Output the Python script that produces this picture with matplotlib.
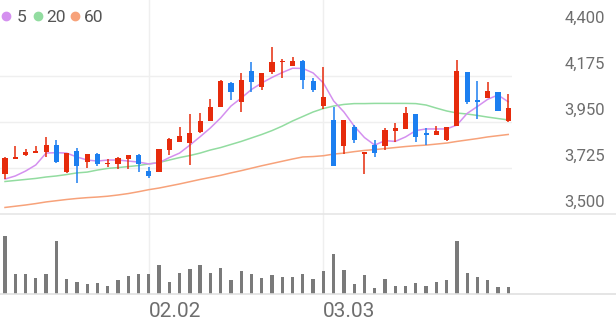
import numpy as np
import matplotlib
matplotlib.use("Agg")
import matplotlib.pyplot as plt
from matplotlib.lines import Line2D
import matplotlib.transforms as mtransforms

plt.rcParams['font.family'] = ['Roboto', 'DejaVu Sans']

# ---------------- data ----------------
opens = [3694, 3770, 3790, 3798, 3805, 3837, 3707, 3810, 3756, 3795,
         3745, 3745, 3769, 3789, 3712, 3704, 3813, 3854, 3846, 3900,
         3955, 4025, 4142, 4049, 4201, 4123, 4196, 4243, 4225, 4250,
         4152, 4030, 3960, 3833, 3927, 3792, 3837, 3833, 3907, 3914,
         3988, 3898, 3885, 3862, 3930, 4193, 4058, 4069, 4098, 3955]
highs = [3778, 3833, 3816, 3833, 3878, 3862, 3797, 3821, 3795, 3800,
         3768, 3777, 3789, 3793, 3728, 3819, 3870, 3924, 3989, 3995,
         4061, 4155, 4145, 4191, 4245, 4190, 4315, 4257, 4269, 4252,
         4164, 4217, 4025, 3960, 3935, 3802, 3862, 3919, 3947, 4025,
         3990, 3919, 3930, 3927, 4253, 4193, 4152, 4147, 4098, 4087]
lows = [3670, 3770, 3784, 3798, 3777, 3748, 3702, 3650, 3723, 3735,
        3731, 3719, 3719, 3707, 3675, 3704, 3789, 3852, 3740, 3898,
        3955, 4025, 4058, 4000, 4098, 4106, 4185, 4164, 4225, 4110,
        4098, 4012, 3735, 3793, 3846, 3696, 3780, 3813, 3854, 3914,
        3854, 3837, 3885, 3858, 3930, 4038, 3963, 4069, 4005, 3949]
closes = [3775, 3780, 3805, 3807, 3837, 3753, 3797, 3736, 3793, 3743,
          3751, 3772, 3789, 3743, 3686, 3819, 3867, 3882, 3898, 3956,
          4025, 4152, 4095, 4155, 4147, 4188, 4245, 4250, 4248, 4155,
          4106, 4074, 3735, 3960, 3862, 3802, 3800, 3911, 3919, 3993,
          3875, 3885, 3904, 3927, 4201, 4049, 4046, 4103, 4005, 4017]
volumes = [583000, 197000, 197000, 157000, 200000, 530000, 147000, 123000, 100000, 107000,
           80000, 140000, 177000, 200000, 200000, 287000, 123000, 213000, 250000, 287000,
           207000, 257000, 140000, 233000, 200000, 157000, 190000, 167000, 167000, 200000,
           147000, 227000, 400000, 240000, 100000, 190000, 63000, 147000, 83000, 83000,
           107000, 80000, 123000, 140000, 527000, 207000, 173000, 140000, 67000, 73000]
ma5 = [3671, 3686, 3710, 3740, 3798, 3800, 3798, 3779, 3764, 3759,
       3764, 3764, 3759, 3754, 3745, 3751, 3776, 3798, 3837, 3878,
       3921, 3970, 4028, 4067, 4109, 4141, 4168, 4192, 4213, 4212,
       4190, 4141, 4053, 3999, 3930, 3874, 3837, 3859, 3855, 3877,
       3908, 3916, 3916, 3916, 3935, 3992, 4026, 4061, 4082, 4049]
ma20 = [3659, 3664, 3669, 3674, 3681, 3686, 3693, 3701, 3705, 3715,
        3723, 3727, 3732, 3737, 3745, 3752, 3764, 3776, 3786, 3798,
        3813, 3825, 3840, 3855, 3872, 3889, 3908, 3930, 3955, 3977,
        3999, 4016, 4028, 4036, 4040, 4040, 4041, 4041, 4041, 4041,
        4040, 4033, 4018, 4004, 3994, 3989, 3982, 3974, 3967, 3960]
ma60 = [3532, 3538, 3544, 3551, 3559, 3565, 3571, 3576, 3580, 3583,
        3587, 3593, 3600, 3609, 3619, 3627, 3637, 3647, 3658, 3669,
        3679, 3689, 3701, 3712, 3724, 3736, 3747, 3758, 3769, 3779,
        3781, 3785, 3793, 3798, 3805, 3811, 3815, 3820, 3825, 3830,
        3834, 3837, 3842, 3847, 3855, 3862, 3869, 3877, 3883, 3889]
price_ticks = [3500, 3725, 3950, 4175, 4400]
date_tick_index = [14, 31]
date_tick_labels = ["02.02", "03.03"]
ma_labels = ["5", "20", "60"]

# ---------------- style ----------------
RED = '#e62b0c'
BLUE = '#1c7ff0'
C5 = '#d490ef'
C20 = '#92dca0'
C60 = '#f7a27a'
GRID = '#efefef'
SEP = '#e6e6e6'
TXT = '#6e6e6e'

W, H = 616, 321
fig = plt.figure(figsize=(W / 100, H / 100), dpi=100)
fig.patch.set_facecolor('white')

ax = fig.add_axes([0, (H - 214) / H, 512 / W, 214 / H])
axv = fig.add_axes([0, (H - 294) / H, 512 / W, 80 / H], sharex=ax)
for a in (ax, axv):
    a.set_facecolor('none')
    for s in a.spines.values():
        s.set_visible(False)
    a.tick_params(left=False, bottom=False, labelleft=False, labelbottom=False)

n = len(closes)
x = np.arange(n)
step = 10.27
ax.set_xlim(-5 / step, -5 / step + 512 / step)
ax.set_ylim(3500, 3500 + 214 * 225 / 46)
axv.set_ylim(0, 800000)

# gridlines
for t in price_ticks[1:4]:
    ax.axhline(t, color=GRID, lw=1.0, zorder=0)
for i in date_tick_index:
    ax.axvline(i, color=GRID, lw=1.0, zorder=0)
    axv.axvline(i, color=GRID, lw=1.0, zorder=0)

# separators full width
fig.add_artist(Line2D([0, 1], [(H - 214) / H] * 2, color=SEP, lw=1.2, transform=fig.transFigure))
fig.add_artist(Line2D([0, 1], [(H - 294) / H] * 2, color='#e0e0e0', lw=1.2, transform=fig.transFigure))

# moving averages
ax.plot(x, ma60, color=C60, lw=1.1, zorder=2)
ax.plot(x, ma20, color=C20, lw=1.1, zorder=2)
ax.plot(x, ma5, color=C5, lw=1.1, zorder=2)

# candles
o = np.array(opens); c = np.array(closes); h = np.array(highs); l = np.array(lows)
cols = [RED if cc >= oo else BLUE for oo, cc in zip(o, c)]
ax.vlines(x, l, h, colors=cols, lw=1.1, zorder=3)
bottom = np.minimum(o, c)
height = np.maximum(np.abs(c - o), 6)
ax.bar(x, height, bottom=bottom, width=0.5, color=cols, zorder=4, linewidth=0)

# volume
axv.bar(x, volumes, width=0.32, color='#7a7a7a', linewidth=0)

# price labels on the right
trans = mtransforms.blended_transform_factory(fig.transFigure, ax.transData) + \
    mtransforms.ScaledTranslation(0, 7.5 / 100, fig.dpi_scale_trans)
for t in price_ticks:
    ax.text(605 / W, t, f"{t:,}", transform=trans, ha='right', va='baseline',
            fontsize=12, color=TXT, clip_on=False)

# date labels
transx = mtransforms.blended_transform_factory(ax.transData, fig.transFigure)
for i, lab in zip(date_tick_index, date_tick_labels):
    ax.text(i, (H - 316.7) / H, lab, transform=transx, ha='left', va='baseline',
            fontsize=15, color=TXT, clip_on=False)

# legend
dot_x = [6, 37.7, 75]
txt_x = [16.2, 46.2, 83.5]
for dx, tx, col, lab in zip(dot_x, txt_x, [C5, C20, C60], ma_labels):
    fig.add_artist(Line2D([dx / W], [(H - 15.7) / H], marker='o', ms=6, color=col,
                          linestyle='none', transform=fig.transFigure))
    fig.text(tx / W, (H - 21.7) / H, lab, ha='left', va='baseline', fontsize=12.5, color='#555555')

fig.savefig('out.png', dpi=100, facecolor='white')
